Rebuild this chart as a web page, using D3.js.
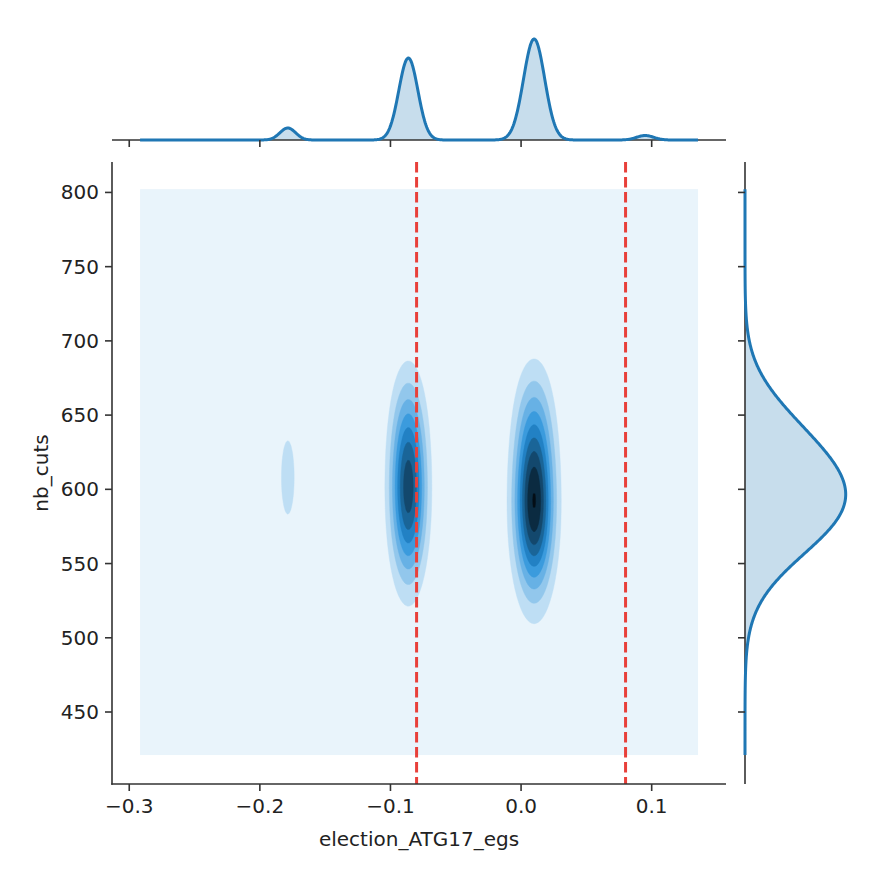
<!DOCTYPE html>
<html>
<head>
<meta charset="utf-8">
<script src="https://cdn.jsdelivr.net/npm/d3@7"></script>
<style>
  body { margin: 0; background: #ffffff; }
  svg { display: block; }
  text { font-family: "DejaVu Sans", sans-serif; fill: #222222; }
</style>
</head>
<body>
<svg id="chart" width="884" height="870"></svg>
<script>
// ---------------- data ----------------
const xTickValues = [-0.3, -0.2, -0.1, 0.0, 0.1];
const xTickLabels = ["\u22120.3", "\u22120.2", "\u22120.1", "0.0", "0.1"];
const yTickValues = [450, 500, 550, 600, 650, 700, 750, 800];
const yTickLabels = ["450", "500", "550", "600", "650", "700", "750", "800"];
const xLabel = "election_ATG17_egs";
const yLabel = "nb_cuts";
const cutoffLines = [-0.08, 0.08];

// clusters of observations (centre, spread, share) estimated from the densities
const clusterX      = [-0.0863, -0.0863, 0.0100, 0.0100, -0.1786, 0.0950];
const clusterY      = [594, 640, 586, 640, 608, 600];
const clusterSdX    = [0.0073, 0.0073, 0.0081, 0.0081, 0.0060, 0.0065];
const clusterSdY    = [35, 30, 35, 30, 35, 35];
const clusterWeight = [0.315, 0.080, 0.430, 0.110, 0.0475, 0.0193];

// KDE support (grid extent) and axis limits
const supportX = [-0.2917, 0.1355];
const supportY = [421.0, 802.2];
const xDomain = [-0.3132, 0.1569];
const yDomain = [401.5, 820.5];

// ---------------- layout ----------------
const svg = d3.select("#chart");
const main = { left: 112, right: 726, top: 162, bottom: 784 };
const topBase = 140, topPeak = 101;
const rightBase = 745, rightPeak = 100.7;
const jointScaleX = 1.22, jointScaleY = 1.06;
const nBands = 10, levelTop = 9.05;
const baseColor = "#1f77b4";
const hslBase = d3.hsl(baseColor);
const fontSize = 20;

const xs = d3.scaleLinear().domain(xDomain).range([main.left, main.right]);
const ys = d3.scaleLinear().domain(yDomain).range([main.bottom, main.top]);

const n = clusterX.length;

// ---------------- joint density grid ----------------
const NX = 320, NY = 320;
const grid = new Float64Array(NX * NY);
for (let j = 0; j < NY; j++) {
  const y = supportY[1] - (j + 0.5) * (supportY[1] - supportY[0]) / NY;
  for (let i = 0; i < NX; i++) {
    const x = supportX[0] + (i + 0.5) * (supportX[1] - supportX[0]) / NX;
    let v = 0;
    for (let k = 0; k < n; k++) {
      const sx = clusterSdX[k] * jointScaleX, sy = clusterSdY[k] * jointScaleY;
      const dx = (x - clusterX[k]) / sx, dy = (y - clusterY[k]) / sy;
      v += clusterWeight[k] / (sx * sy) * Math.exp(-0.5 * (dx * dx + dy * dy));
    }
    grid[i + j * NX] = v;
  }
}
const zmax = d3.max(grid);
const step = zmax / levelTop;
const levels = d3.range(1, nBands).map(i => i * step);
const bandColor = i => d3.hsl(hslBase.h, hslBase.s, 1 - (i + 0.5) / nBands).formatHex();

const gx0 = xs(supportX[0]), gx1 = xs(supportX[1]);
const gy0 = ys(supportY[1]), gy1 = ys(supportY[0]);
const proj = d3.geoTransform({
  point(px, py) {
    this.stream.point(gx0 + px * (gx1 - gx0) / NX, gy0 + py * (gy1 - gy0) / NY);
  }
});
const geoPath = d3.geoPath(proj);

const gJoint = svg.append("g");
gJoint.append("rect")
  .attr("x", gx0).attr("y", gy0)
  .attr("width", gx1 - gx0).attr("height", gy1 - gy0)
  .attr("fill", bandColor(0));
const contours = d3.contours().size([NX, NY]).thresholds(levels)(grid);
gJoint.selectAll("path.band").data(contours).join("path")
  .attr("class", "band")
  .attr("d", geoPath)
  .attr("fill", (d, i) => bandColor(i + 1))
  .attr("stroke", (d, i) => bandColor(i + 1))
  .attr("stroke-width", 0.4);

// cutoff lines
svg.append("g").selectAll("line").data(cutoffLines).join("line")
  .attr("x1", d => xs(d)).attr("x2", d => xs(d))
  .attr("y1", main.top).attr("y2", main.bottom)
  .attr("stroke", "#e8403a").attr("stroke-width", 3)
  .attr("stroke-dasharray", "10.5,4.5");

// ---------------- marginal densities ----------------
function dens1(v, centers, sds) {
  let s = 0;
  for (let k = 0; k < n; k++) {
    const d = (v - centers[k]) / sds[k];
    s += clusterWeight[k] / sds[k] * Math.exp(-0.5 * d * d);
  }
  return s;
}
const xSamples = d3.range(0, 801).map(i => supportX[0] + i * (supportX[1] - supportX[0]) / 800);
const xDens = xSamples.map(v => dens1(v, clusterX, clusterSdX));
const xMax = d3.max(xDens);
const mx = d3.scaleLinear().domain([0, xMax]).range([topBase, topBase - topPeak]);

const ySamples = d3.range(0, 801).map(i => supportY[0] + i * (supportY[1] - supportY[0]) / 800);
const yDens = ySamples.map(v => dens1(v, clusterY, clusterSdY));
const yMax = d3.max(yDens);
const my = d3.scaleLinear().domain([0, yMax]).range([rightBase, rightBase + rightPeak]);

const gTop = svg.append("g");
gTop.append("path")
  .attr("d", d3.area().x((d, i) => xs(xSamples[i])).y0(topBase).y1(d => mx(d))(xDens))
  .attr("fill", baseColor).attr("fill-opacity", 0.25);
gTop.append("line").attr("x1", main.left).attr("x2", main.right)
  .attr("y1", topBase).attr("y2", topBase).attr("stroke", "#333").attr("stroke-width", 1.6);
gTop.append("path")
  .attr("d", d3.line().x((d, i) => xs(xSamples[i])).y(d => mx(d))(xDens))
  .attr("fill", "none").attr("stroke", baseColor).attr("stroke-width", 3)
  .attr("stroke-linejoin", "round");
gTop.selectAll("line.tick").data(xTickValues).join("line").attr("class", "tick")
  .attr("x1", d => xs(d)).attr("x2", d => xs(d))
  .attr("y1", topBase).attr("y2", topBase + 7)
  .attr("stroke", "#333").attr("stroke-width", 1.6);

const gRight = svg.append("g");
gRight.append("path")
  .attr("d", d3.area().y((d, i) => ys(ySamples[i])).x0(rightBase).x1(d => my(d))(yDens))
  .attr("fill", baseColor).attr("fill-opacity", 0.25);
gRight.append("line").attr("x1", rightBase).attr("x2", rightBase)
  .attr("y1", main.top).attr("y2", main.bottom).attr("stroke", "#333").attr("stroke-width", 1.6);
gRight.append("path")
  .attr("d", d3.line().y((d, i) => ys(ySamples[i])).x(d => my(d))(yDens))
  .attr("fill", "none").attr("stroke", baseColor).attr("stroke-width", 3)
  .attr("stroke-linejoin", "round");
gRight.selectAll("line.tick").data(yTickValues).join("line").attr("class", "tick")
  .attr("y1", d => ys(d)).attr("y2", d => ys(d))
  .attr("x1", rightBase - 7).attr("x2", rightBase)
  .attr("stroke", "#333").attr("stroke-width", 1.6);

// ---------------- main axes ----------------
const gAxes = svg.append("g");
gAxes.append("line").attr("x1", main.left).attr("x2", main.left)
  .attr("y1", main.top).attr("y2", main.bottom + 0.8).attr("stroke", "#333").attr("stroke-width", 1.6);
gAxes.append("line").attr("x1", main.left - 0.8).attr("x2", main.right)
  .attr("y1", main.bottom).attr("y2", main.bottom).attr("stroke", "#333").attr("stroke-width", 1.6);

gAxes.selectAll("line.xt").data(xTickValues).join("line").attr("class", "xt")
  .attr("x1", d => xs(d)).attr("x2", d => xs(d))
  .attr("y1", main.bottom).attr("y2", main.bottom + 7)
  .attr("stroke", "#333").attr("stroke-width", 1.6);
gAxes.selectAll("text.xt").data(xTickValues).join("text").attr("class", "xt")
  .attr("x", d => xs(d)).attr("y", main.bottom + 29)
  .attr("text-anchor", "middle").attr("font-size", fontSize)
  .text((d, i) => xTickLabels[i]);

gAxes.selectAll("line.yt").data(yTickValues).join("line").attr("class", "yt")
  .attr("y1", d => ys(d)).attr("y2", d => ys(d))
  .attr("x1", main.left - 7).attr("x2", main.left)
  .attr("stroke", "#333").attr("stroke-width", 1.6);
gAxes.selectAll("text.yt").data(yTickValues).join("text").attr("class", "yt")
  .attr("x", main.left - 13).attr("y", d => ys(d) + 7)
  .attr("text-anchor", "end").attr("font-size", fontSize)
  .text((d, i) => yTickLabels[i]);

gAxes.append("text")
  .attr("x", (main.left + main.right) / 2).attr("y", 846)
  .attr("text-anchor", "middle").attr("font-size", fontSize)
  .text(xLabel);
gAxes.append("text")
  .attr("transform", `translate(48,${(main.top + main.bottom) / 2}) rotate(-90)`)
  .attr("text-anchor", "middle").attr("font-size", fontSize)
  .text(yLabel);
</script>
</body>
</html>
